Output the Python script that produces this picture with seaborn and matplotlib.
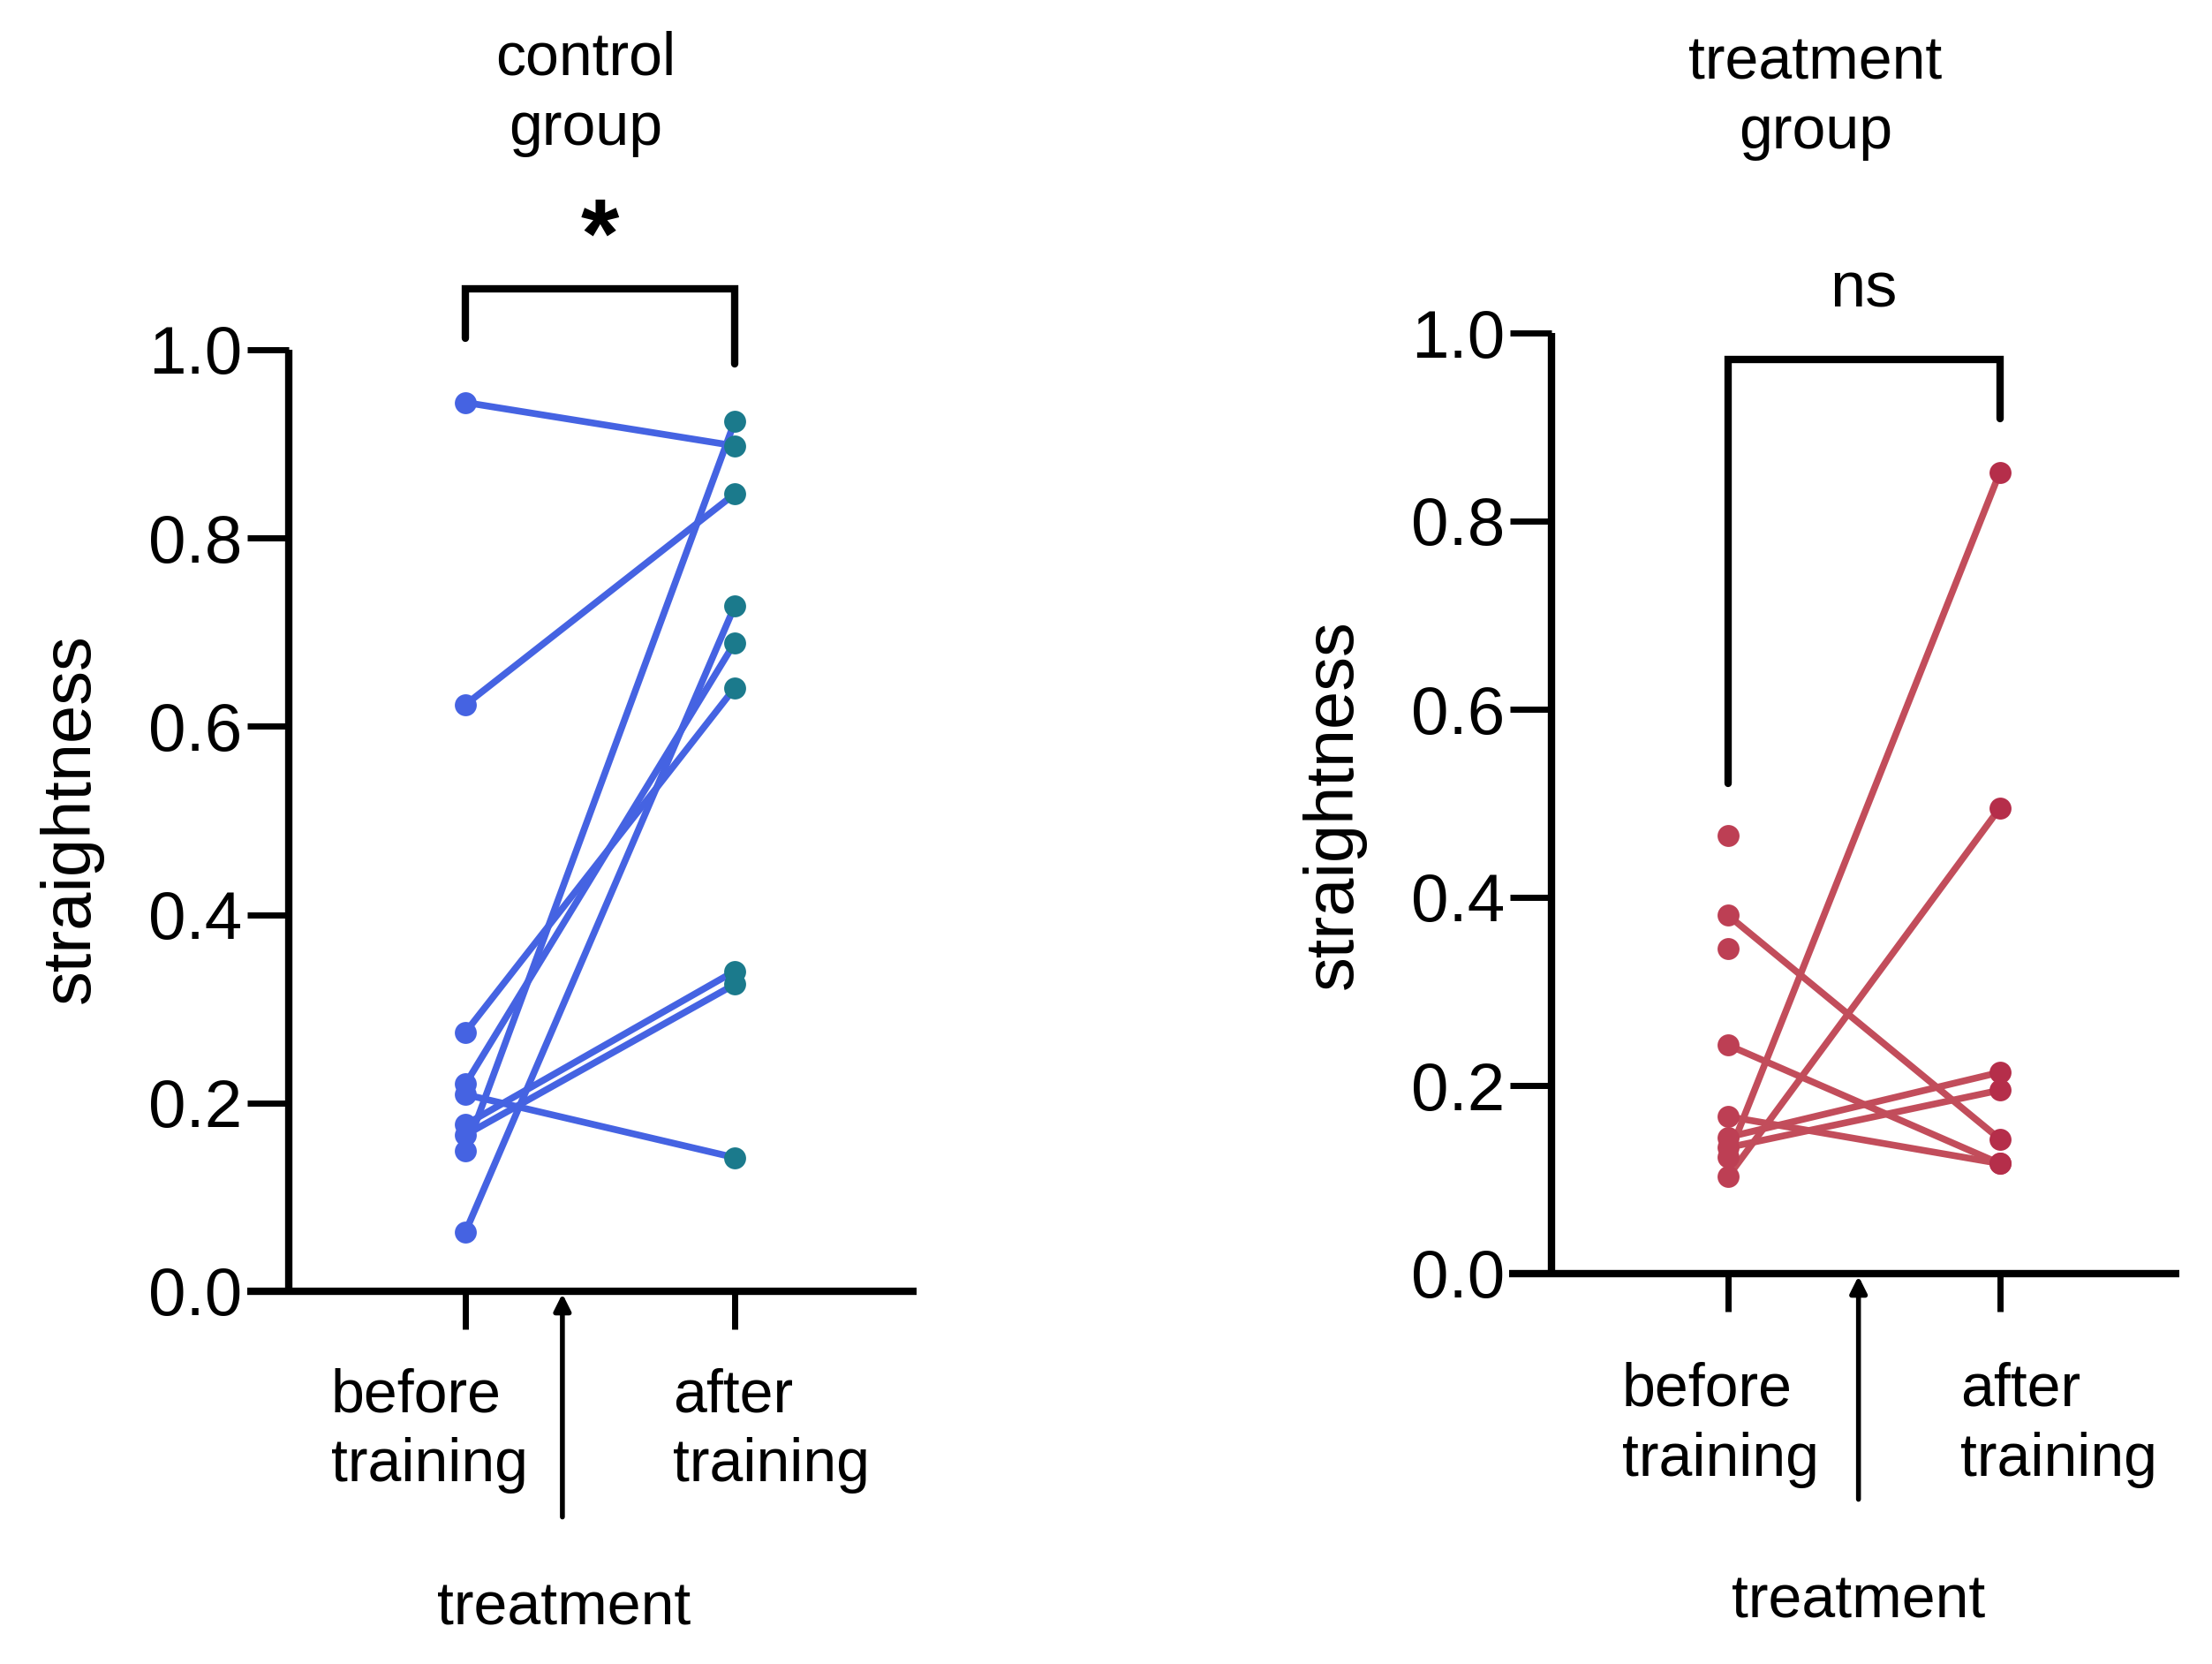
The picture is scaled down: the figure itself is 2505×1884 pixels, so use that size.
"""
Paired before/after straightness plot for control and treatment groups.
"""

import matplotlib
matplotlib.use("Agg")
import matplotlib.pyplot as plt
import seaborn as sns
import pandas as pd
import numpy as np

# ---- data ----
phases = ["before", "after"]

control_before = [0.944, 0.623, 0.275, 0.220, 0.209, 0.177, 0.166, 0.149, 0.063]
control_after = [0.898, 0.847, 0.641, 0.689, 0.142, 0.340, 0.326, 0.924, 0.728]

treat_before = [0.466, 0.381, 0.346, 0.243, 0.167, 0.145, 0.134, 0.124, 0.103]
treat_after = [np.nan, 0.143, np.nan, 0.117, 0.117, 0.214, 0.195, 0.852, 0.495]

tick_vals = [0.0, 0.2, 0.4, 0.6, 0.8, 1.0]
tick_labels = ["0.0", "0.2", "0.4", "0.6", "0.8", "1.0"]


def to_long(before, after):
    rows = []
    for i, (b, a) in enumerate(zip(before, after)):
        rows.append({"subject": i, "phase": phases[0], "value": b})
        rows.append({"subject": i, "phase": phases[1], "value": a})
    return pd.DataFrame(rows)


sns.set_theme(style="white")
plt.rcParams["font.family"] = ["Liberation Sans", "DejaVu Sans"]
for key in ["text.color", "axes.labelcolor", "xtick.color", "ytick.color"]:
    plt.rcParams[key] = "black"

W, H = 2505, 1884
fig = plt.figure(figsize=(W / 100, H / 100), dpi=100)


def px_axes(x0, x1, y_top, y_bot):
    return fig.add_axes([x0 / W, 1 - y_bot / H, (x1 - x0) / W, (y_bot - y_top) / H])


panels = [
    dict(df=to_long(control_before, control_after),
         rect=(280, 1038, 396, 1462), xlim=(-0.81, 1.675), spine=-0.656,
         line="#4563E2", c_before="#4563E2", c_after="#1B7A8C",
         lab_x=(-0.50, 0.77), lab_off=62, arrow_x=0.36, arrow_len=184,
         bracket=(1.065, 1.012, 0.985), sig="*", sig_y=1.115, sig_size=80, sig_weight="bold",
         title="control\ngroup", title_xy=(663, 106), ylab_xy=(80, 927), treat_xy=(639, 1821)),
    dict(df=to_long(treat_before, treat_after),
         rect=(1709, 2468, 377, 1442), xlim=(-0.805, 1.66), spine=-0.65,
         line="#C24D5B", c_before="#BD3F54", c_after="#B52E4A",
         lab_x=(-0.39, 0.854), lab_off=72, arrow_x=0.48, arrow_len=184,
         bracket=(0.972, 0.521, 0.909), sig="ns", sig_y=1.045, sig_size=52, sig_weight="normal",
         title="treatment\ngroup", title_xy=(2056, 111), ylab_xy=(1510, 911), treat_xy=(2105, 1813)),
]

for p in panels:
    x0, x1, yt, yb = p["rect"]
    ax = px_axes(x0, x1, yt, yb)
    df = p["df"]

    sns.lineplot(data=df, x="phase", y="value", units="subject", estimator=None,
                 color=p["line"], lw=5.5, ax=ax, legend=False)
    sns.scatterplot(data=df[df.phase == phases[0]], x="phase", y="value",
                    color=p["c_before"], s=320, linewidth=0, ax=ax, legend=False, zorder=3)
    sns.scatterplot(data=df[df.phase == phases[1]], x="phase", y="value",
                    color=p["c_after"], s=320, linewidth=0, ax=ax, legend=False, zorder=3)

    ax.set_xlim(*p["xlim"])
    ax.set_ylim(0, 1.0)
    ax.set_xlabel("")
    ax.set_ylabel("")
    ax.set_facecolor("none")

    for s in ["top", "right"]:
        ax.spines[s].set_visible(False)
    ax.spines["left"].set_position(("data", p["spine"]))
    for s in ["left", "bottom"]:
        ax.spines[s].set_linewidth(6)
        ax.spines[s].set_color("black")
        ax.spines[s].set_capstyle("butt")

    ax.set_yticks(tick_vals)
    ax.set_yticklabels(tick_labels)
    ax.set_xticks([0, 1])
    ax.set_xticklabels(["", ""])
    ax.tick_params(axis="y", length=34, width=5, labelsize=55, pad=4, colors="black", left=True)
    ax.tick_params(axis="x", length=31, width=5, colors="black", bottom=True)

    # category labels under the axis
    for xi, txt in zip(p["lab_x"], ["before\ntraining", "after\ntraining"]):
        ax.annotate(txt, xy=(xi, 0), xycoords=("data", "axes fraction"),
                    xytext=(0, -p["lab_off"]), textcoords="offset points",
                    ha="left", va="top", fontsize=49, linespacing=1.3)

    # treatment arrow
    ax.annotate("", xy=(p["arrow_x"], 0), xycoords=("data", "axes fraction"),
                xytext=(0, -p["arrow_len"]), textcoords="offset points",
                arrowprops=dict(arrowstyle="-|>", lw=4, color="black",
                                mutation_scale=28, shrinkA=0, shrinkB=2),
                annotation_clip=False)

    # significance bracket
    top, left_end, right_end = p["bracket"]
    ax.plot([0, 0, 1, 1], [left_end, top, top, right_end], color="black",
            lw=6, solid_joinstyle="miter", clip_on=False)
    ax.text(0.5, p["sig_y"], p["sig"], ha="center", va="center",
            fontsize=p["sig_size"], fontweight=p["sig_weight"], clip_on=False)

    fig.text(p["title_xy"][0] / W, 1 - p["title_xy"][1] / H, p["title"],
             ha="center", va="center", fontsize=49, linespacing=1.3)
    fig.text(p["ylab_xy"][0] / W, 1 - p["ylab_xy"][1] / H, "straightness",
             ha="center", va="center", rotation=90, fontsize=56)
    fig.text(p["treat_xy"][0] / W, 1 - p["treat_xy"][1] / H, "treatment",
             ha="center", va="center", fontsize=49)

fig.savefig("out.png", dpi=100, facecolor="white")
